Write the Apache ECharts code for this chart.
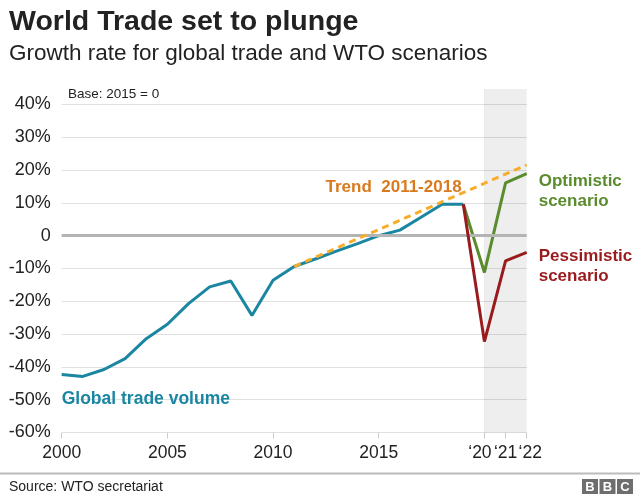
<!DOCTYPE html>
<html>
<head>
<meta charset="utf-8">
<script src="https://cdn.jsdelivr.net/npm/echarts@6/dist/echarts.min.js"></script>
<style>
html,body{margin:0;padding:0;background:#fff;}
#chart{width:640px;height:499px;}
</style>
</head>
<body>
<div id="chart"></div>
<script>
// ---- data ----
const tradeYears = [2000,2001,2002,2003,2004,2005,2006,2007,2008,2009,2010,2011,2012,2013,2014,2015,2016,2017,2018,2019];
const tradeVolume = [-42.3,-42.9,-40.8,-37.5,-31.4,-27.0,-20.7,-15.6,-13.8,-24.3,-13.6,-9.4,-7.1,-4.7,-2.4,0,1.7,5.6,9.6,9.6];
const scenarioYears = [2019,2020,2021,2022];
const optimistic = [9.6,-11.2,16.1,18.9];
const pessimistic = [9.6,-32.3,-7.7,-5.1];
const trendYears = [2011,2022];
const trendValues = [-9.4,21.6];
const xTickValues = [2000,2005,2010,2015,2020,2021,2022];
const xTickLabels = ['2000','2005','2010','2015','\u201820','\u201821','\u201822'];
const forecastYears = [2020,2022];

const zip = (xs, ys) => xs.map((x, i) => [x, ys[i]]);
const FONT = "'Liberation Sans', Arial, Helvetica, sans-serif";
const C_BLUE = '#1a86a2', C_GREEN = '#5a8c2e', C_RED = '#991b1e', C_ORANGE = '#f7ad2a', C_ORANGE_TXT = '#d97a1e';

const chart = echarts.init(document.getElementById('chart'), null, {renderer: 'canvas'});
const gridPos = {left: 61.7, right: 113.3, bottom: 66.5};

const option = {
  animation: false,
  textStyle: {fontFamily: FONT},
  title: [
    {text: 'World Trade set to plunge', left: 9, top: 8, padding: 0,
     textStyle: {fontFamily: FONT, fontSize: 28.5, fontWeight: 'bold', color: '#222'}},
    {text: 'Growth rate for global trade and WTO scenarios', left: 9, top: 42.5, padding: 0,
     textStyle: {fontFamily: FONT, fontSize: 22.5, fontWeight: 'normal', color: '#222'}},
    {text: 'Base: 2015 = 0', left: 68, top: 87, padding: 0,
     textStyle: {fontFamily: FONT, fontSize: 13.5, fontWeight: 'normal', color: '#222'}},
    {text: 'Source: WTO secretariat', left: 9, top: 480.5, padding: 0,
     textStyle: {fontFamily: FONT, fontSize: 14, fontWeight: 'normal', color: '#222'}}
  ],
  grid: [
    Object.assign({top: 104.5}, gridPos),
    Object.assign({top: 89}, gridPos)
  ],
  xAxis: [
    {gridIndex: 0, type: 'value', min: 2000, max: 2022,
     splitLine: {show: false}, axisLine: {show: false, onZero: false},
     axisTick: {show: true, customValues: xTickValues, length: 6, lineStyle: {color: '#cccccc', width: 1}},
     axisLabel: {customValues: xTickValues, margin: 12, fontSize: 17.5, color: '#222', fontFamily: FONT,
       showMinLabel: true, showMaxLabel: true, hideOverlap: false,
       formatter: v => {
         const t = xTickLabels[xTickValues.indexOf(v)];
         if (v === 2020) return '{l|' + t + '}';
         if (v === 2022) return '{r|' + t + '}';
         return t;
       },
       rich: {
         l: {fontSize: 17.5, color: '#222', fontFamily: FONT, padding: [0, 9, 0, 0]},
         r: {fontSize: 17.5, color: '#222', fontFamily: FONT, padding: [0, 0, 0, 7]}
       }}},
    {gridIndex: 1, type: 'value', min: 2000, max: 2022, show: false}
  ],
  yAxis: [
    {gridIndex: 0, type: 'value', min: -60, max: 40, interval: 10,
     axisLine: {show: false}, axisTick: {show: false},
     splitLine: {show: true, lineStyle: {color: '#e0e0e0', width: 1}},
     axisLabel: {margin: 11, fontSize: 18, color: '#222', fontFamily: FONT,
       formatter: v => v === 0 ? '0' : v + '%'}},
    {gridIndex: 1, type: 'value', min: 0, max: 1, show: false}
  ],
  series: [
    {type: 'line', xAxisIndex: 1, yAxisIndex: 1, data: [], z: 0, silent: true,
     markArea: {silent: true, itemStyle: {color: 'rgba(0,0,0,0.065)'},
       data: [[{xAxis: forecastYears[0]}, {xAxis: forecastYears[1]}]]},
     markLine: {silent: true, symbol: 'none', label: {show: false},
       lineStyle: {color: 'rgba(0,0,0,0.05)', width: 1, type: 'solid'},
       data: [{xAxis: forecastYears[0]}]}},
    {type: 'line', data: [], z: 1, silent: true,
     markLine: {silent: true, symbol: 'none', label: {show: false},
       lineStyle: {color: '#b4b4b4', width: 3, type: 'solid'},
       data: [{yAxis: 0}]}},
    {name: 'Global trade volume', type: 'line', data: zip(tradeYears, tradeVolume), z: 3,
     showSymbol: false, symbol: 'none',
     lineStyle: {color: C_BLUE, width: 3},
     markPoint: {silent: true, symbolSize: 0, itemStyle: {color: 'transparent'},
       label: {show: true, position: 'right', distance: 0, formatter: 'Global trade volume',
         color: C_BLUE, fontSize: 17.5, fontWeight: 'bold', fontFamily: FONT},
       data: [{coord: [2000, -49.8]}]}},
    {name: 'Optimistic', type: 'line', data: zip(scenarioYears, optimistic), z: 4,
     showSymbol: false, symbol: 'none',
     lineStyle: {color: C_GREEN, width: 3},
     endLabel: {show: true, formatter: 'Optimistic\nscenario', color: C_GREEN, fontSize: 17,
       fontWeight: 'bold', lineHeight: 20, fontFamily: FONT, distance: 12, offset: [0, 17.5]}},
    {name: 'Pessimistic', type: 'line', data: zip(scenarioYears, pessimistic), z: 5,
     showSymbol: false, symbol: 'none',
     lineStyle: {color: C_RED, width: 3},
     endLabel: {show: true, formatter: 'Pessimistic\nscenario', color: C_RED, fontSize: 17,
       fontWeight: 'bold', lineHeight: 20, fontFamily: FONT, distance: 12, offset: [0, 14]}},
    {name: 'Trend', type: 'line', data: zip(trendYears, trendValues), z: 6,
     showSymbol: false, symbol: 'none',
     lineStyle: {color: C_ORANGE, width: 3, type: [7, 5]},
     markPoint: {silent: true, symbolSize: 0, itemStyle: {color: 'transparent'},
       label: {show: true, position: 'left', distance: 0, formatter: 'Trend  2011-2018',
         color: C_ORANGE_TXT, fontSize: 17, fontWeight: 'bold', fontFamily: FONT},
       data: [{coord: [2018.92, 14.6]}]}}
  ],
  graphic: [
    {type: 'line', shape: {x1: 0, y1: 473.5, x2: 640, y2: 473.5}, style: {stroke: '#bbbbbb', lineWidth: 2}, silent: true},
    {type: 'group', left: 582, top: 479, silent: true, children: [
      {type: 'rect', shape: {x: 0, y: 0, width: 16, height: 15}, style: {fill: '#6e6e6e'}},
      {type: 'rect', shape: {x: 17.5, y: 0, width: 16, height: 15}, style: {fill: '#6e6e6e'}},
      {type: 'rect', shape: {x: 35, y: 0, width: 16, height: 15}, style: {fill: '#6e6e6e'}},
      {type: 'text', x: 8, y: 8, style: {text: 'B', fill: '#fff', font: 'bold 13px ' + FONT, align: 'center', verticalAlign: 'middle'}},
      {type: 'text', x: 25.5, y: 8, style: {text: 'B', fill: '#fff', font: 'bold 13px ' + FONT, align: 'center', verticalAlign: 'middle'}},
      {type: 'text', x: 43, y: 8, style: {text: 'C', fill: '#fff', font: 'bold 13px ' + FONT, align: 'center', verticalAlign: 'middle'}}
    ]}
  ]
};
chart.setOption(option);
</script>
</body>
</html>
